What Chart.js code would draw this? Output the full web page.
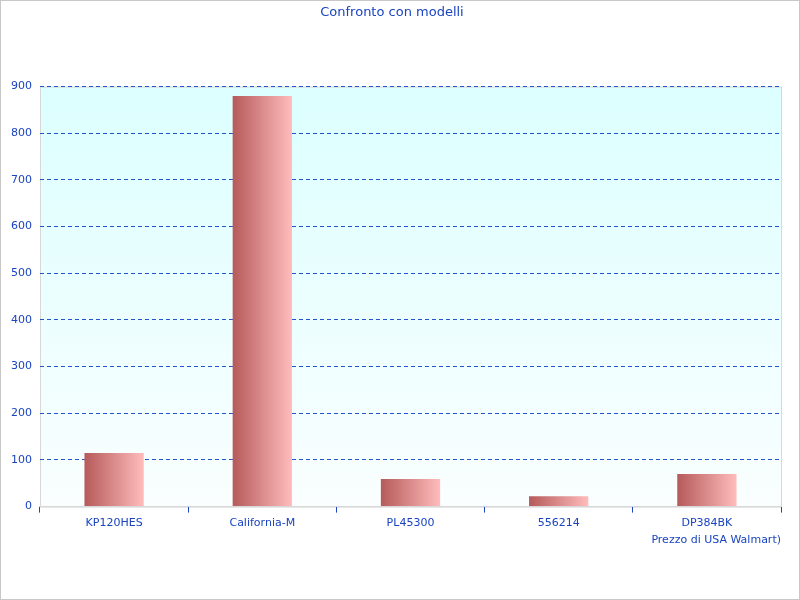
<!DOCTYPE html>
<html>
<head>
<meta charset="utf-8">
<script src="https://cdn.jsdelivr.net/npm/chart.js@4/dist/chart.umd.min.js"></script>
<style>
  body { margin: 0; background: #fff; }
  #wrap { width: 798px; height: 598px; border: 1px solid #c8c8c8; }
</style>
</head>
<body>
<div id="wrap"><canvas id="chart" width="798" height="598"></canvas></div>
<script>
var categories = ["KP120HES", "California-M", "PL45300", "556214", "DP384BK"];
var prices = [115, 880, 59, 22, 70];
var yTicks = [0, 100, 200, 300, 400, 500, 600, 700, 800, 900];

var blue = "#1a44c0";
Chart.defaults.font.family = "DejaVu Sans";
Chart.defaults.font.size = 11;
Chart.defaults.color = blue;

// cyan-to-white background of the plot area
var plotBg = {
    id: "plotBg",
    beforeDraw: function(chart) {
        var a = chart.chartArea, c = chart.ctx;
        var g = c.createLinearGradient(0, a.top, 0, a.bottom);
        g.addColorStop(0, "#dcffff");
        g.addColorStop(1, "#fafefe");
        c.save();
        c.fillStyle = g;
        c.fillRect(a.left, a.top, a.width, a.height);
        c.strokeStyle = "#d8d8d8";
        c.strokeRect(a.left + 0.5, a.top + 0.5, a.width, a.height);
        c.restore();
    }
};

function barColor(ctx) {
    var chart = ctx.chart, a = chart.chartArea;
    if (!a) return "#d88";
    var x = chart.scales.x.getPixelForValue(ctx.dataIndex);
    var w = a.width / categories.length * 0.4;
    var g = chart.ctx.createLinearGradient(x - w / 2, 0, x + w / 2, 0);
    g.addColorStop(0, "#b65a5a");
    g.addColorStop(1, "#ffbcbc");
    return g;
}

new Chart(document.getElementById("chart"), {
    type: "bar",
    plugins: [plotBg],
    data: {
        labels: categories,
        datasets: [{
            label: "Prezzo di USA Walmart)",
            data: prices,
            backgroundColor: barColor,
            categoryPercentage: 0.4,
            barPercentage: 1
        }]
    },
    options: {
        responsive: false,
        animation: false,
        layout: { padding: { top: 0, right: 18, left: 2, bottom: 52 } },
        plugins: {
            legend: { display: false },
            title: {
                display: true,
                text: "Confronto con modelli",
                color: blue,
                font: { size: 13, weight: "normal" },
                padding: { top: 4, bottom: 66 }
            }
        },
        scales: {
            x: {
                grid: { display: true, drawOnChartArea: false, tickLength: 6, color: blue },
                border: { color: "#d8d8d8" },
                ticks: { color: blue, padding: 4 },
                title: { display: true, text: "Prezzo di USA Walmart)", align: "end", color: blue, padding: 0 }
            },
            y: {
                min: 0, max: 900,
                afterBuildTicks: function(s) { s.ticks = yTicks.map(function(v) { return { value: v }; }); },
                grid: { color: "#2255cc", drawTicks: false },
                border: { display: false, dash: [4, 3] },
                ticks: { color: blue, padding: 8 }
            }
        }
    }
});
</script>
</body>
</html>
